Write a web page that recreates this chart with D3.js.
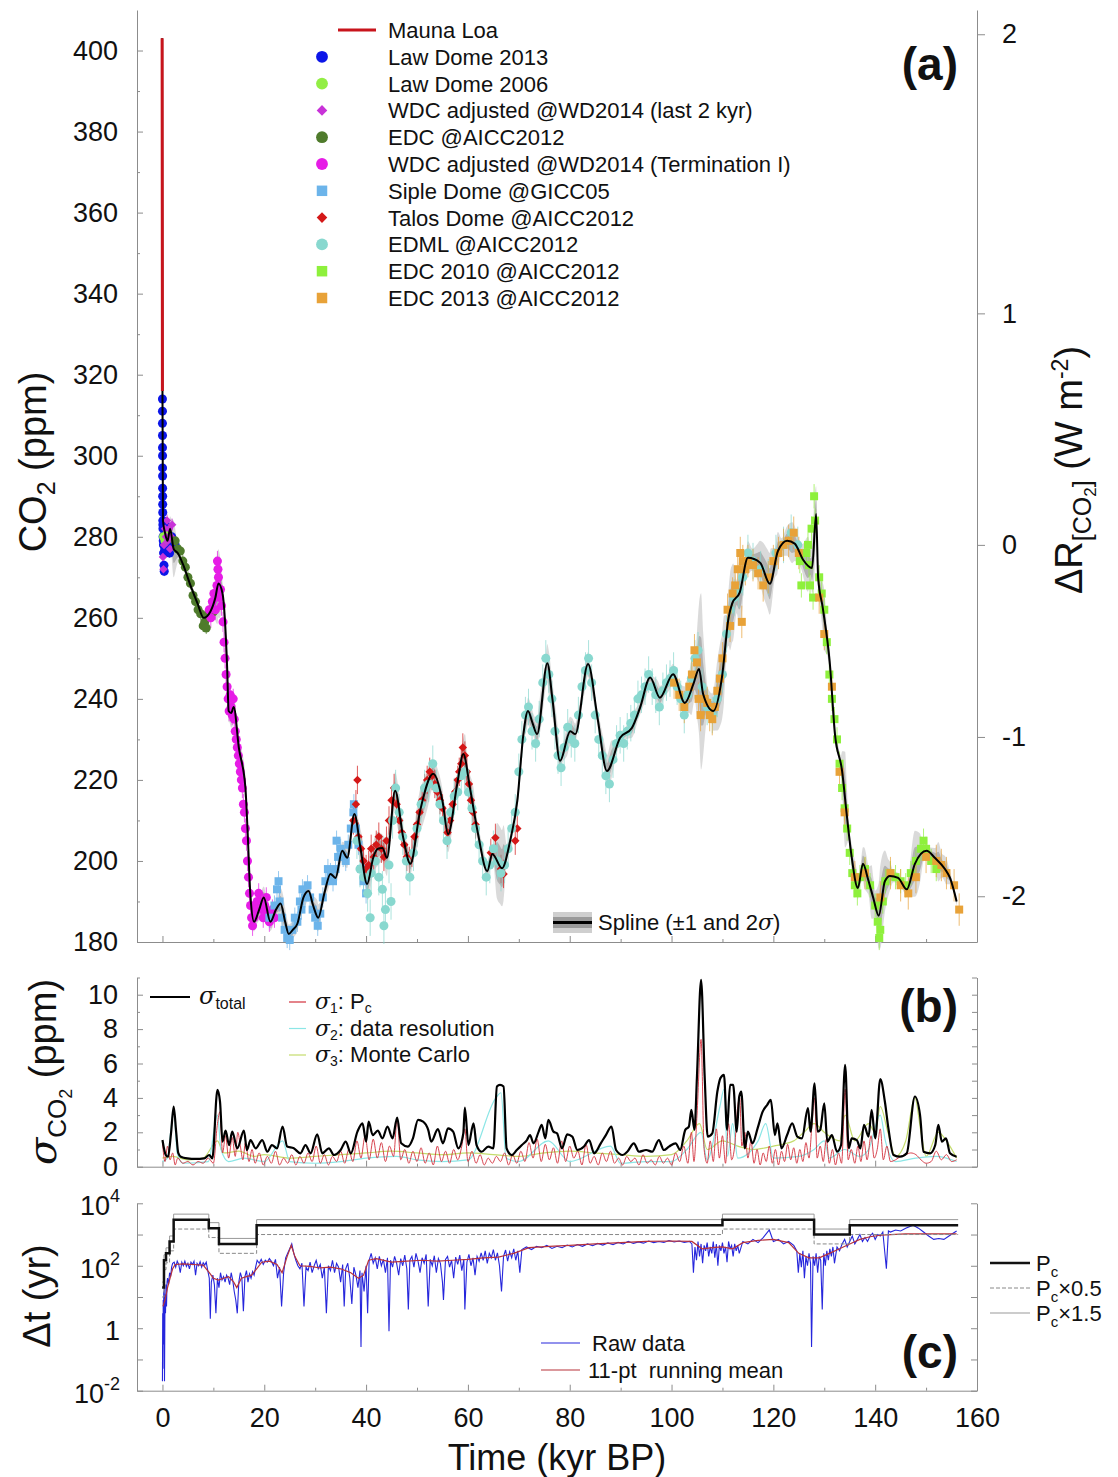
<!DOCTYPE html>
<html>
<head>
<meta charset="utf-8">
<script src="https://cdn.jsdelivr.net/npm/d3@7"></script>
<style>
  body { margin: 0; background: #fff; }
  svg text { font-family: "Liberation Sans", Arial, Helvetica, sans-serif; fill: #111; }
  .ax path, .ax line { stroke: #8c8c8c; }
  .ax text { fill: #111; }
  .sig { font-family: "DejaVu Serif", "Liberation Serif", serif !important; font-style: italic; }
</style>
</head>
<body>
<svg id="chart" width="1118" height="1477"></svg>
<script>
//spline of CO2 (kyr BP, ppm)
const splineCO2 = [[-0.066,403],[-0.04,362],[-0.01,320],[0.1,284],[0.5,281],[1.0,279],[1.5,282],[2.2,277],[3.0,276],[4.1,273],[5.5,268],[6.9,263.5],[8.1,260],[9.4,261.5],[10.4,265],[11.0,268.5],[11.8,266],[12.7,248],[13.0,237],[13.5,236.5],[14.0,238],[15.0,228],[16.3,218],[16.7,208],[17.3,191],[18.0,185],[19.0,188],[19.9,191],[21.2,185],[22.3,188],[23.2,189.5],[24.1,185],[24.8,182],[25.6,183],[26.5,184.5],[27.7,191],[28.7,192.6],[29.6,189],[30.6,186],[31.8,192],[33.0,196.8],[34.0,195.8],[35.3,202.5],[36.3,200.8],[37.7,211.6],[38.9,203.2],[40.2,194.3],[41.4,200.8],[42.3,203],[43.2,203.2],[44.1,200.8],[45.7,217.3],[47.3,205.7],[48.7,199.3],[50.6,212.3],[53.2,221.5],[55.0,214.8],[56.1,206.6],[57.9,219],[59.1,226.4],[60.4,218],[62.0,206.6],[63.8,197.5],[64.8,201.7],[66.7,198.2],[68.3,205],[69.7,214.8],[70.9,231.3],[71.8,237],[72.7,234],[73.6,231.3],[75.6,248.8],[76.6,240],[78.1,224.7],[80.1,232],[81.1,231.3],[83.6,248.6],[85.5,235],[87.3,222.2],[89.9,230.4],[92.2,232.8],[93.8,237.8],[95.8,245.3],[97.7,240.3],[100.3,246.1],[102.6,239],[104.3,243.7],[105.4,247.4],[106.2,241.2],[108.2,237],[109.9,245.3],[111.2,260],[111.9,263.5],[113.4,266.3],[115,274.8],[117.4,273.6],[119.3,268.4],[120.9,276.5],[122.7,279],[124.2,278.3],[125.8,274.4],[127.6,272.3],[128.4,285.6],[128.8,269.8],[129.7,262.5],[131.1,248.6],[132.1,231.3],[133.5,222.2],[134.4,211.6],[135.4,200.8],[136.6,193.3],[137.6,199.3],[138.6,195.5],[139.6,191],[140.7,186.5],[141.9,195],[142.9,196.3],[144.5,195.8],[146.2,193],[147.8,199.3],[150.1,202.5],[151.7,200.8],[153.7,198],[154.7,195.8],[156,190]];

const maunaLoa = [[-0.066,403],[-0.055,390],[-0.045,375],[-0.035,362],[-0.025,348],[-0.015,333],[-0.008,316]];

//ice core records (kyr BP, ppm)
const lawDome2013 = [[0.0,314],[0.0,311],[0.0,308],[0.01,305],[0.01,302],[0.02,300],[0.02,297],[0.03,295],[0.03,292],[0.04,290],[0.05,288],[0.06,286],[0.07,284],[0.08,283],[0.1,282],[0.12,280],[0.15,279],[0.2,278],[0.25,276],[0.3,276],[0.3,273],[0.35,271.5],[0.4,279],[0.45,277],[0.5,281],[0.6,283],[0.7,280],[0.8,279],[0.9,282],[1.0,280],[1.2,278],[1.4,276],[1.6,278],[1.8,280],[2.2,279],[2.5,278]];
const lawDome2006 = [[0.2,280],[0.5,279],[1.0,281],[1.3,280]];
const wdcLast2k = [[0.1,275],[0.2,272],[0.3,278],[0.5,282],[0.7,280],[0.9,284],[1.1,279],[1.3,282],[1.5,277],[1.7,280],[1.9,283]];
const edc = [[2.5,279],[3.0,277],[3.5,276.5],[4.0,274],[4.5,272.5],[5.0,270],[5.5,268.5],[6.0,265.5],[6.5,264],[7.0,262],[7.5,261],[8.0,258],[8.3,259],[8.6,257.5],[9.0,261],[9.5,262],[10.0,261.5]];
const wdcTermI = [[9.2,262],[9.5,260],[9.8,264],[10.1,266],[10.4,262],[10.7,268],[10.8,274],[10.9,272],[11.0,270],[11.2,265],[11.4,267],[11.6,263],[11.9,259],[12.1,254],[12.3,250],[12.5,246],[12.7,243],[12.9,240],[13.1,237],[13.3,241],[13.5,238],[13.7,236],[13.9,240],[14.1,235],[14.3,232],[14.5,230],[14.7,228],[14.9,226],[15.1,224],[15.3,222],[15.5,220],[15.7,218],[15.9,214],[16.1,212],[16.3,208],[16.5,205],[16.7,200],[16.9,196],[17.1,192],[17.3,189],[17.5,186],[17.7,184],[18.0,186],[18.3,188],[18.6,190],[18.9,192],[19.2,190],[19.5,188],[19.8,186],[20.1,189],[20.4,191],[20.7,187],[21.0,185],[21.3,186],[21.6,188],[22.0,186]];
const sipleDome = [[21,186],[22,189],[22.5,193],[22.8,195],[23,190],[23.5,186],[24,183],[24.5,181],[25,180.5],[25.5,183],[26,186],[26.5,185],[27,190],[27.3,188],[27.5,193],[28,191],[28.5,194],[29,191],[29.5,188],[30,186],[30.5,184],[31,187],[31.5,191],[32,195],[32.5,198],[33,197],[33.5,195],[34,198],[34.2,205],[34.5,201],[35,203],[35.5,201],[36,200],[36.5,204],[37,208],[37.5,212],[37.6,214],[38,208],[38.5,204],[39,198],[39.5,195],[40,192]];
const talosDome = [[37.5,210],[38.0,214],[38.3,220],[38.5,206],[39,203],[39.5,200],[40,198],[40.5,199],[41,203],[41.5,201],[42,204],[42.5,206],[43,203],[43.5,201],[44,205],[44.5,210],[45,215],[45.5,218],[46,214],[46.5,210],[47,207],[47.5,204],[48,201],[48.5,200],[49,202],[49.5,206],[50,209],[50.5,212],[51,215],[51.5,218],[52,220],[52.5,222],[53,221],[53.5,219],[54,217],[54.5,215],[55,213],[55.5,210],[56,207],[56.5,210],[57,214],[57.5,217],[58,220],[58.3,222],[58.7,224],[59,228],[59.4,226],[59.8,222],[60.2,219],[60.6,215],[61,212],[61.5,209],[64.5,202],[65.4,205.7],[66.5,198],[67,196.8],[69.3,205],[69.7,208]];
const edml = [[38.2,205],[38.8,198],[39.5,196],[40.3,192],[40.8,186],[41,197],[41.8,200],[42.5,196],[43.2,193],[43.5,184],[43.8,188],[44.5,199],[44.9,190],[45.2,210],[45.8,218],[46.5,212],[47.2,206],[47.9,200],[48.6,196],[49.3,202],[50.0,208],[50.8,214],[51.5,218],[52.3,219],[53.1,224],[53.8,218],[54.5,214],[55.2,210],[55.9,205],[56.6,212],[57.3,216],[58.0,217],[58.7,221],[59.4,222],[60.1,217],[60.8,213],[61.5,208],[62.2,204],[62.9,200],[63.6,196],[64.3,199],[65.0,203],[65.8,200],[66.5,197],[67.2,199],[67.9,203],[68.6,208],[69.3,212],[70.0,222],[70.6,230],[71.3,236],[71.9,238],[72.6,232],[73.3,229],[74.0,235],[74.7,244],[75.3,250],[75.9,246],[76.5,240],[77.1,232],[77.7,226],[78.3,223],[78.9,228],[79.6,233],[80.3,230],[81.0,229],[81.7,236],[82.4,243],[83.1,247],[83.7,250],[84.3,244],[85.0,236],[85.7,230],[86.4,226],[87.1,221],[87.8,219],[88.5,225],[89.2,229],[89.9,231],[90.6,229],[91.3,232],[92.0,234],[92.7,236],[93.4,240],[94.1,241],[94.8,243],[95.5,246],[96.2,243],[96.9,241],[97.6,238],[98.3,242],[99.0,244],[99.7,245],[100.4,247],[101.1,243],[101.8,240],[102.5,236],[103.2,241],[103.9,245],[104.6,250],[105.2,252],[106,243],[107,238],[108,236],[109,240],[110,246],[110.8,256],[111.5,262],[112.3,265],[113.2,267],[114,270],[115,276],[116,274],[117.5,272],[119,270],[120.5,276],[122,278],[123.5,281],[124.8,278]];
const edc2010 = [[125.2,274],[125.5,268],[126.5,276],[126.8,278],[127,273],[127.2,268],[127.5,282],[127.8,265],[128,290],[128.2,284],[129,270],[129.5,266],[130,262],[130.5,254],[131,246],[131.5,240],[132,235],[132.5,230],[133,224],[133.5,218],[134,213],[134.5,208],[135,202],[135.5,197],[136,194],[136.5,192],[137,196],[138,198],[139,194],[140,189],[140.5,185],[140.8,181],[141,183],[141.5,190],[142,195],[143,197],[144,196],[145,195],[146,194],[147,197],[148,200],[149,203],[149.5,205],[150,203],[151,200],[152,198]];
const edc2013 = [[100.5,244],[101.5,241],[102.5,238],[103.5,243],[104,246],[104.5,252],[105,249],[105.3,240],[105.7,236],[106.5,240],[107,239],[107.5,236],[108,235],[108.5,238],[109,242],[109.5,245],[110,250],[111,262],[111.5,258],[112,266],[112.5,268],[113,272],[113.5,276],[113.8,259],[114,274],[114.5,272],[115,274],[116,273],[117,271],[118,268],[119,270],[120,274],[121,276],[122,278],[123,279],[124,281],[125,276],[129,265],[130,256],[131.5,243],[133,222],[134,212],[136,196],[138,197],[141,191],[143,197],[145,194],[146.5,192],[148,196],[150,201],[152,200],[153,199],[154,197],[155.5,194],[156.5,188]];

const datasetNames = ["Law Dome 2013", "Law Dome 2006", "WDC adjusted @WD2014 (last 2 kyr)", "EDC @AICC2012", "WDC adjusted @WD2014 (Termination I)", "Siple Dome @GICC05", "Talos Dome @AICC2012", "EDML @AICC2012", "EDC 2010 @AICC2012", "EDC 2013 @AICC2012"];
const datasetColors = ["#0c16e8", "#92ee44", "#c832d8", "#4f7b2c", "#e61ce6", "#6cb4ea", "#d41818", "#88d8cf", "#8ef03c", "#e8a238"];
const datasetShapes = ["circle", "circle", "diamond", "circle", "circle", "square", "diamond", "circle", "square", "square"];
const datasetErr = [1.2, 1.2, 1.5, 1.5, 2.5, 2.5, 3.5, 4.5, 3, 4];
const datasets = [lawDome2013, lawDome2006, wdcLast2k, edc, wdcTermI, sipleDome, talosDome, edml, edc2010, edc2013];

//panel b: uncertainties (kyr BP, ppm)
const sigmaTotal = [[0,1.55],[0.65,0.68],[1.1,0.58],[1.7,2.0],[2.2,3.5],[2.7,2.0],[3.1,0.8],[3.6,0.58],[4.9,0.48],[6.5,0.45],[8.2,0.48],[9.2,0.68],[9.8,0.48],[10.8,4.47],[11.3,3.8],[11.8,1.46],[12.4,2.1],[13.1,1.26],[13.7,2.04],[14.7,1.07],[16,2.1],[16.6,0.97],[17.3,1.55],[18.3,1.07],[19.6,1.55],[20.6,0.87],[21.5,1.26],[22.5,1.07],[23.6,2.33],[24.5,1.17],[25.8,1.07],[27.1,0.78],[28.1,1.26],[29.1,0.78],[30.4,1.88],[31.4,0.78],[32.7,1.07],[33.7,0.68],[35,0.97],[36,1.46],[37,0.78],[38.3,2.04],[39.3,2.52],[40,1.46],[40.5,2.62],[41.3,1.84],[42.3,2.1],[43.2,1.65],[44.2,2.33],[45.2,1.65],[46.1,2.85],[46.9,1.36],[48.2,1.17],[49.2,1.65],[50.2,2.72],[51.2,2.62],[52.2,2.14],[52.8,1.46],[54.1,2.19],[55.1,1.36],[56.1,2.23],[57.1,2.04],[58.1,1.07],[59.1,1.94],[59.4,3.44],[60.1,1.26],[61.1,2.52],[61.7,1.26],[62.7,0.87],[64,1.17],[65,1.07],[65.7,4.66],[66.3,4.76],[67,4.66],[67.6,1.07],[68.6,0.68],[69.6,0.97],[70.6,1.26],[71.6,1.55],[72.2,1.84],[72.9,1.36],[73.9,2.04],[74.5,2.43],[75.2,1.65],[75.8,2.72],[76.8,2.04],[77.5,1.94],[78.5,1.07],[79.5,1.88],[80.5,1.75],[81.5,0.97],[82.8,1.17],[83.8,1.55],[84.8,0.78],[86.1,1.36],[87.1,1.84],[88.2,2.33],[89.1,0.97],[90.4,0.68],[91.3,0.87],[92.6,1.36],[93.6,0.87],[95,0.97],[96.2,0.87],[97.5,1.55],[98.5,0.97],[99.5,1.17],[100.8,1.36],[101.7,0.97],[102.7,2.14],[103.4,2.33],[103.9,3.3],[104.5,2.14],[105,5.3],[105.8,10.87],[106.5,5.3],[107.1,1.75],[108,1.94],[109,4.37],[109.6,5.15],[110.3,5.34],[110.9,2.14],[111.5,4.76],[112.1,4.76],[112.8,2.04],[113.3,4.08],[113.7,4.37],[114.4,1.07],[115,2.04],[115.9,1.36],[116.9,2.23],[117.9,3.2],[118.8,3.6],[119.5,3.88],[120.3,1.84],[120.8,2.52],[121.6,1.07],[122.7,1.84],[123.7,2.52],[124.7,1.75],[125.6,1.65],[126.8,3.4],[127.3,2.04],[128.1,4.85],[128.7,2.04],[129.2,2.14],[130,3.69],[130.6,1.46],[131.5,1.84],[132.5,0.87],[133.3,1.26],[134.1,5.92],[134.8,1.07],[135.4,1.65],[136.4,1.55],[137.1,1.07],[137.8,2.43],[138.7,1.75],[139.3,3.3],[140,1.65],[141,5.1],[141.9,3.79],[142.6,2.23],[143.6,0.68],[144.9,0.58],[146.2,0.78],[147.8,4.08],[148.8,3.03],[149.5,0.87],[150.8,0.78],[151.8,1.26],[152.4,2.43],[153.1,1.46],[153.9,1.65],[154.7,0.78],[156,0.58]];
const sigmaPc = [[0,1.4],[0.5,0.3],[1,1.2],[1.5,0.4],[2,0.8],[2.5,0.1],[3,0.5],[4,0.2],[5,0.3],[6,0.1],[7,0.3],[8,0.2],[9,0.5],[10,0.2],[10.8,2.5],[11.3,3.2],[11.8,0.8],[12.4,1.8],[13,0.5],[13.7,1.7],[14.3,0.6],[14.8,2.0],[15.3,1.2],[15.8,0.4],[16.3,1.4],[17,0.3],[17.6,1.0],[18.2,0.2],[19,0.8],[19.8,0.1],[20.6,0.6],[21.4,0.2],[22.2,0.9],[23,0.1],[23.8,0.5],[24.6,0.2],[25.4,0.7],[26.2,0.1],[27,0.6],[27.8,0.2],[28.6,0.8],[29.4,0.3],[30.2,1.2],[31,0.2],[31.8,0.7],[32.6,0.1],[33.4,0.6],[34.2,0.3],[35,0.9],[35.8,0.2],[36.6,1.0],[37.4,0.3],[38.2,1.5],[39,0.5],[39.8,1.8],[40.6,0.4],[41.4,1.6],[42.2,0.5],[43,1.4],[43.8,0.3],[44.6,1.2],[45.4,0.6],[46.1,2.8],[46.8,0.4],[47.6,1.0],[48.4,0.2],[49.2,0.9],[50,0.3],[50.8,1.1],[51.6,0.2],[52.4,0.8],[53.2,0.1],[54,1.2],[54.8,0.3],[55.6,0.9],[56.4,0.2],[57.2,1.0],[58,0.4],[58.8,1.2],[59.4,2.2],[60,0.3],[60.8,0.9],[61.6,0.2],[62.4,0.7],[63.2,0.1],[64,0.5],[64.8,0.2],[65.6,0.6],[66.4,0.3],[67.2,0.8],[68,0.1],[68.8,0.7],[69.6,0.2],[70.4,0.9],[71.2,0.3],[72,1.4],[72.8,0.5],[73.6,1.6],[74.4,0.3],[75.2,1.3],[76,0.4],[76.8,1.1],[77.6,0.2],[78.4,1.5],[79.2,0.3],[80,1.2],[80.8,0.5],[81.6,0.9],[82.4,0.1],[83.2,1.3],[84,0.2],[84.8,0.6],[85.6,0.1],[86.4,0.8],[87.2,0.3],[88,0.9],[88.8,0.2],[89.6,0.5],[90.4,0.1],[91.2,0.6],[92,0.3],[92.8,0.5],[93.6,0.1],[94.4,0.7],[95.2,0.2],[96,0.4],[96.8,0.1],[97.6,0.6],[98.4,0.2],[99.2,0.5],[100,0.1],[100.8,0.8],[101.6,0.3],[102.4,1.2],[103.2,0.2],[103.9,2.0],[104.4,0.3],[105,3.0],[105.8,7.4],[106.4,1.0],[107,0.2],[107.6,1.5],[108.2,0.3],[108.8,2.2],[109.4,0.5],[110,1.8],[110.6,0.2],[111.2,2.5],[111.8,0.4],[112.4,1.2],[113,3.5],[113.4,4.0],[113.8,1.2],[114.4,2.0],[115,0.5],[115.6,1.5],[116.2,0.2],[116.8,1.0],[117.4,0.1],[118,0.8],[118.6,0.3],[119.2,1.2],[119.8,0.2],[120.4,1.0],[121,0.1],[121.6,0.9],[122.2,0.3],[122.8,1.3],[123.4,0.4],[124,1.1],[124.6,0.2],[125.2,1.0],[125.8,0.3],[126.4,1.4],[127,0.5],[127.6,2.5],[128.1,4.0],[128.6,0.5],[129.2,1.2],[129.8,0.3],[130.4,1.6],[131,0.2],[131.6,1.0],[132.2,0.1],[132.8,0.8],[133.4,0.2],[134.1,4.5],[134.7,0.4],[135.3,1.0],[136,0.2],[136.6,1.2],[137.2,0.3],[137.8,1.5],[138.4,0.4],[139.2,1.8],[139.8,0.5],[140.4,1.0],[141,2.2],[141.6,0.4],[142.3,1.2],[143,0.3],[144,0.4],[145,0.6],[146,0.7],[147,0.8],[148,0.7],[149,0.4],[150,0.2],[151,0.3],[152,0.9],[153,0.4],[154,0.7],[155,0.3],[156,0.4]];
const sigmaRes = [[0,0.3],[1,0.5],[1.6,2.0],[2.2,3.3],[2.9,0.8],[4,0.2],[9,0.3],[10.8,3.0],[11.5,1.0],[13,0.3],[16,0.5],[20,0.3],[23.6,1.5],[25,0.3],[30,0.2],[35,0.3],[40,0.5],[46,0.6],[50,0.4],[55,0.3],[60,0.4],[65.5,4.0],[66.5,4.3],[67.5,0.5],[70,0.3],[75.8,1.5],[80,0.3],[88,1.2],[90,0.2],[95,0.3],[100,0.3],[103,1.0],[105.8,2.0],[107,0.4],[109.5,3.5],[110.3,4.5],[111,0.6],[112,2.5],[113,0.5],[117,1.5],[118.5,2.5],[120,0.5],[125,0.6],[128,1.0],[130,1.5],[131,0.5],[134,1.0],[137,0.6],[138.7,1.0],[141,3.0],[142,1.5],[144,0.3],[148,0.5],[152,0.6],[156,0.3]];
const sigmaMC = [[0,0.5],[2,0.6],[5,0.4],[8,0.5],[10.8,1.5],[12,0.8],[15,0.9],[18,0.6],[20,0.7],[25,0.5],[30,0.6],[35,0.7],[40,0.8],[45,0.9],[50,0.8],[55,0.7],[60,0.8],[65,0.7],[70,0.6],[75,0.8],[80,0.9],[85,0.8],[90,0.7],[95,0.6],[100,0.7],[103,1.5],[105.5,2.5],[107,1.0],[110,1.5],[113,1.2],[116,1.0],[120,1.2],[124,1.5],[126,2.0],[128,2.5],[130,2.0],[133,1.5],[134.1,3.0],[136,1.5],[138.7,2.5],[140,2.0],[141,3.5],[142.5,2.0],[144,0.6],[146,1.5],[147.8,4.0],[149,2.0],[150,0.6],[152.4,2.0],[154,1.5],[156,0.5]];

//panel c: cut-off period steps and time resolution (kyr BP, yr)
const pcBreaks = [-0.06, 0.3, 0.7, 1.4, 2.2, 9.1, 11.1, 18.5, 110, 128, 135, 156.3];
const pcValues = [20, 150, 250, 600, 3000, 1600, 500, 2000, 3000, 1000, 2000];
const rawDt = [[0.0,0.02],[0.05,3],[0.1,0.05],[0.15,8],[0.2,0.3],[0.25,15],[0.3,1],[0.35,20],[0.4,0.02],[0.5,12],[0.6,3],[0.7,25],[0.8,5],[0.9,30],[1.0,40],[1.2,25],[1.4,60],[1.6,45],[1.8,90],[2.0,120],[2.3,130],[2.6,90],[2.9,140],[3.2,110],[3.5,60],[3.8,130],[4.1,100],[4.4,140],[4.7,95],[5.0,120],[5.3,80],[5.6,130],[5.9,110],[6.2,140],[6.5,50],[6.8,120],[7.1,100],[7.4,135],[7.7,90],[8.0,125],[8.3,105],[8.6,130],[8.9,70],[9.2,40],[9.4,2],[9.6,30],[9.9,50],[10.2,25],[10.5,3],[10.8,40],[11.1,20],[11.4,60],[11.7,35],[12.0,45],[12.3,30],[12.6,50],[12.9,40],[13.2,25],[13.5,60],[13.8,35],[14.1,15],[14.4,8],[14.7,3],[15.0,30],[15.3,60],[15.6,40],[15.9,3.5],[16.2,45],[16.5,70],[16.8,30],[17.1,55],[17.4,40],[17.7,65],[18.0,50],[18.3,90],[18.6,150],[19.0,120],[19.4,160],[19.8,110],[20.2,150],[20.6,130],[21.0,170],[21.4,140],[21.8,100],[22.2,160],[22.6,40],[23.0,90],[23.4,5],[23.8,60],[24.2,180],[24.6,250],[25.0,350],[25.4,500],[25.8,250],[26.2,150],[26.6,100],[27.0,80],[27.4,120],[27.8,5],[28.2,90],[28.6,70],[29.0,130],[29.4,60],[29.8,100],[30.2,150],[30.6,80],[31.0,110],[31.4,40],[31.8,90],[32.2,3],[32.6,100],[33.0,70],[33.4,150],[33.8,60],[34.2,120],[34.6,90],[35.0,30],[35.4,110],[35.7,5],[36.0,80],[36.4,120],[36.8,40],[37.2,6],[37.6,90],[38.0,50],[38.4,20],[38.8,70],[39.0,0.25],[39.2,60],[39.6,15],[40.0,100],[40.3,3],[40.6,150],[41.0,250],[41.4,120],[41.8,180],[42.2,80],[42.6,200],[43.0,100],[43.4,160],[43.8,60],[44.2,180],[44.5,0.8],[44.8,150],[45.2,90],[45.6,200],[46.0,120],[46.4,50],[46.8,170],[47.2,100],[47.6,220],[48.0,80],[48.3,4],[48.6,150],[49.0,200],[49.4,90],[49.8,250],[50.2,140],[50.6,60],[51.0,180],[51.4,120],[51.8,230],[52.2,5],[52.6,160],[53.0,100],[53.4,210],[53.8,60],[54.2,170],[54.6,120],[55.0,30],[55.2,8],[55.6,160],[56.0,200],[56.4,90],[56.8,150],[57.2,40],[57.6,190],[58.0,110],[58.4,220],[58.8,70],[59.2,160],[59.4,4],[59.8,130],[60.2,230],[60.6,100],[61.0,180],[61.4,50],[61.8,200],[62.2,140],[62.6,260],[63.0,150],[63.4,300],[63.8,120],[64.2,250],[64.6,180],[65.0,330],[65.4,150],[65.8,260],[66.2,100],[66.6,15],[67.0,200],[67.4,320],[67.8,140],[68.2,280],[68.6,180],[69.0,350],[69.4,150],[69.8,300],[70.2,60],[70.6,330],[71.5,400],[72.5,330],[73.5,420],[74.5,380],[75.5,450],[76.5,360],[77.5,420],[78.5,380],[79.5,460],[80.5,400],[81.5,480],[82.5,420],[83.5,500],[84.5,440],[85.5,520],[86.5,460],[87.5,540],[88.5,470],[89.5,560],[90.5,500],[91.5,600],[92.5,520],[93.5,580],[94.5,530],[95.5,620],[96.5,550],[97.5,600],[98.5,560],[99.5,640],[100.5,580],[101.5,620],[102.5,560],[103.5,600],[104.0,500],[104.3,60],[104.6,400],[104.9,150],[105.2,600],[105.5,200],[105.8,500],[106.1,120],[106.4,450],[106.7,300],[107.0,550],[107.3,200],[107.6,400],[107.9,250],[108.2,600],[108.5,180],[108.8,500],[109.1,100],[109.4,450],[109.7,300],[110.0,550],[110.3,250],[110.6,400],[110.9,130],[111.2,600],[111.5,350],[111.8,450],[112.1,200],[112.4,500],[112.7,300],[113.0,450],[113.3,250],[114,600],[115,500],[116,700],[117,550],[118,800],[119.2,1400],[120,600],[121,700],[122,500],[123,600],[124,450],[124.6,300],[124.9,60],[125.2,250],[125.5,90],[125.8,300],[126.1,40],[126.4,200],[126.7,100],[127.0,250],[127.3,120],[127.5,0.25],[127.8,200],[128.1,100],[128.4,250],[128.7,60],[129.0,200],[129.3,150],[129.6,4],[129.9,250],[130.2,100],[130.5,300],[130.8,150],[131.1,350],[131.4,200],[131.7,400],[132.0,120],[132.5,400],[133.0,300],[133.5,500],[134,700],[134.5,400],[135,600],[135.5,900],[136,500],[136.5,700],[137,1000],[137.5,600],[138,800],[138.5,600],[139,900],[139.5,1100],[140,700],[140.5,1000],[141,900],[141.5,1200],[142.2,80],[142.6,1300],[143,1200],[144,1400],[145,1300],[146,1600],[147.4,2000],[148.5,1600],[149.5,1200],[150.5,900],[151.5,700],[152.5,750],[153.5,700],[154.5,900],[155.3,1100],[156,1300]];
const meanDt = [[0.1,5],[0.5,8],[1.0,20],[1.5,40],[2.0,80],[2.5,110],[4,115],[6,110],[8,105],[9.2,60],[10,40],[11,35],[12,40],[13,45],[14,30],[14.6,20],[15.5,40],[16.5,45],[17.5,50],[18.5,80],[19.5,130],[21,140],[22.5,110],[23.5,60],[24.5,200],[25.3,450],[26,200],[27,100],[29,95],[31,85],[33,90],[35,80],[37,60],[38.5,40],[39.5,50],[40.5,150],[42,170],[45,130],[48,140],[51,150],[54,140],[57,150],[60,160],[63,180],[66,190],[69,250],[72,380],[76,420],[80,450],[85,500],[90,550],[95,600],[100,620],[104,600],[106,350],[108,380],[110,400],[112,350],[114,550],[117,650],[120,700],[123,550],[125,250],[127,180],[129,180],[131,250],[133,350],[135,500],[137,700],[139,850],[141,950],[143,1000],[146,1050],[150,1050],[156,1050]];

//tick values
const co2Ticks = [180, 200, 220, 240, 260, 280, 300, 320, 340, 360, 380, 400];
const co2Minor = [190, 210, 230, 250, 270, 290, 310, 330, 350, 370, 390];
const forcingTicks = [-2, -1, 0, 1, 2];
const timeTicks = [0, 20, 40, 60, 80, 100, 120, 140, 160];
const timeMinor = [10, 30, 50, 70, 90, 110, 130, 150];
const sigmaTicks = [0, 2, 4, 6, 8, 10];
const sigmaMinor = [1, 3, 5, 7, 9, 11];
const dtTicks = [1e-2, 1e-1, 1, 10, 100, 1e3, 1e4];
const dtLabels = [[1e4, "10", "4"], [1e2, "10", "2"], [1, "1", ""], [1e-2, "10", "-2"]];

const svg = d3.select("#chart");
const L = 137, R = 977;

//scales
const x = d3.scaleLinear().domain([-5, 160]).range([L, R]);
const yA = d3.scaleLinear().domain([180, 410]).range([942, 10]);
const yB = d3.scaleLinear().domain([0, 11]).range([1166.7, 977.5]);
const yC = d3.scaleLog().domain([1e-2, 1e4]).range([1390.7, 1203.3]);

function styleAxis(g, size) {
  g.attr("class", "ax").attr("font-size", size || 27)
    .attr("font-family", '"Liberation Sans", Arial, sans-serif');
}
function noDomain(g) { g.select(".domain").remove(); }

// ---------- panel a ----------
svg.append("g").attr("transform", `translate(${L},0)`)
  .call(d3.axisLeft(yA).tickValues(co2Ticks).tickSize(-6).tickSizeOuter(0).tickPadding(19))
  .call(styleAxis);
svg.append("g").attr("transform", `translate(${L},0)`)
  .call(d3.axisLeft(yA).tickValues(co2Minor).tickSize(-3).tickFormat(""))
  .call(styleAxis).call(noDomain);
svg.append("g").attr("transform", `translate(${R},0)`)
  .call(d3.axisRight(yA).tickValues(forcingTicks.map(r => 278 * Math.exp(r / 5.35)))
    .tickSize(8).tickSizeOuter(0).tickPadding(17).tickFormat((d, i) => String(forcingTicks[i])))
  .call(styleAxis);
svg.append("g").attr("transform", "translate(0,942)")
  .call(d3.axisBottom(x).tickValues(timeTicks).tickSize(-6).tickSizeOuter(0).tickFormat(""))
  .call(styleAxis);
svg.append("g").attr("transform", "translate(0,942)")
  .call(d3.axisBottom(x).tickValues(timeMinor).tickSize(-3).tickFormat(""))
  .call(styleAxis).call(noDomain);

//linear interpolation inside a [t, v] list
function interp(series, t) {
  const i = d3.bisector(d => d[0]).left(series, t);
  if (i <= 0) return series[0][1];
  if (i >= series.length) return series[series.length - 1][1];
  const a = series[i - 1], b = series[i];
  return a[1] + (b[1] - a[1]) * (t - a[0]) / (b[0] - a[0]);
}

//uncertainty bands around the spline
const bandTimes = Array.from(new Set(splineCO2.map(d => d[0]).concat(sigmaTotal.map(d => d[0]))))
  .filter(t => t >= 0.1 && t <= 156).sort((a, b) => a - b);
const band = bandTimes.map(t => ({ t, c: interp(splineCO2, t), s: interp(sigmaTotal, t) }));
[[2, "#d4d4d4"], [1, "#a9a9a9"]].forEach(([k, col]) => {
  svg.append("path").datum(band)
    .attr("fill", col).attr("opacity", 0.85)
    .attr("d", d3.area().curve(d3.curveMonotoneX)
      .x(d => x(d.t)).y0(d => yA(d.c - k * d.s)).y1(d => yA(d.c + k * d.s)));
});

//diamonds are squares turned by 45 degrees
const shapeType = { circle: d3.symbolCircle, square: d3.symbolSquare, diamond: d3.symbolSquare };
const shapeSize = { circle: 64, square: 64, diamond: 36 };
const turn = s => (s === "diamond" ? " rotate(45)" : "");

//error bars then markers
datasets.forEach((pts, k) => {
  const g = svg.append("g");
  g.selectAll("line").data(pts).join("line")
    .attr("x1", d => x(d[0])).attr("x2", d => x(d[0]))
    .attr("y1", d => yA(d[1] - datasetErr[k])).attr("y2", d => yA(d[1] + datasetErr[k]))
    .attr("stroke", datasetColors[k]).attr("stroke-width", 1).attr("opacity", 0.7);
});
datasets.forEach((pts, k) => {
  const s = datasetShapes[k];
  svg.append("g").selectAll("path").data(pts).join("path")
    .attr("transform", d => `translate(${x(d[0])},${yA(d[1])})` + turn(s))
    .attr("d", d3.symbol().type(shapeType[s]).size(shapeSize[s]))
    .attr("fill", datasetColors[k]);
});

svg.append("path").datum(splineCO2)
  .attr("fill", "none").attr("stroke", "#000").attr("stroke-width", 2)
  .attr("d", d3.line().curve(d3.curveMonotoneX).x(d => x(d[0])).y(d => yA(d[1])));
svg.append("path").datum(maunaLoa)
  .attr("fill", "none").attr("stroke", "#c8141c").attr("stroke-width", 3)
  .attr("d", d3.line().x(d => x(d[0])).y(d => yA(d[1])));

//legend of panel a
const legA = svg.append("g");
const rowY = i => 30 + i * 26.8;
legA.append("line").attr("x1", 338).attr("x2", 376).attr("y1", rowY(0)).attr("y2", rowY(0))
  .attr("stroke", "#c8141c").attr("stroke-width", 3);
legA.append("text").attr("x", 388).attr("y", rowY(0) + 8).attr("font-size", 22).text("Mauna Loa");
datasetNames.forEach((name, k) => {
  const s = datasetShapes[k];
  legA.append("path").attr("transform", `translate(322,${rowY(k + 1)})` + turn(s))
    .attr("d", d3.symbol().type(shapeType[s]).size(s === "diamond" ? 56 : 110))
    .attr("fill", datasetColors[k]);
  legA.append("text").attr("x", 388).attr("y", rowY(k + 1) + 8).attr("font-size", 22).text(name);
});

svg.append("text").attr("x", 958).attr("y", 80).attr("text-anchor", "end")
  .attr("font-size", 46).attr("font-weight", "bold").text("(a)");

//spline legend
svg.append("rect").attr("x", 553).attr("y", 912).attr("width", 39).attr("height", 21).attr("fill", "#cfcfcf");
svg.append("rect").attr("x", 553).attr("y", 917).attr("width", 39).attr("height", 11).attr("fill", "#9a9a9a");
svg.append("line").attr("x1", 553).attr("x2", 592).attr("y1", 922.5).attr("y2", 922.5)
  .attr("stroke", "#000").attr("stroke-width", 3);
const sl = svg.append("text").attr("x", 598).attr("y", 930).attr("font-size", 22);
sl.append("tspan").text("Spline (\u00b11 and 2");
sl.append("tspan").attr("class", "sig").text("\u03c3");
sl.append("tspan").text(")");

//axis titles of panel a
const tA = svg.append("text").attr("transform", "translate(46,462) rotate(-90)")
  .attr("text-anchor", "middle").attr("font-size", 38);
tA.append("tspan").text("CO");
tA.append("tspan").attr("font-size", 25).attr("dy", 9).text("2");
tA.append("tspan").attr("dy", -9).text(" (ppm)");

const tR = svg.append("text").attr("transform", "translate(1082,470) rotate(-90)")
  .attr("text-anchor", "middle").attr("font-size", 38);
tR.append("tspan").text("\u0394R");
tR.append("tspan").attr("font-size", 25).attr("dy", 9).text("[CO");
tR.append("tspan").attr("font-size", 17).attr("dy", 5).text("2");
tR.append("tspan").attr("font-size", 25).attr("dy", -5).text("]");
tR.append("tspan").attr("dy", -9).text(" (W m");
tR.append("tspan").attr("font-size", 23).attr("dy", -14).text("-2");
tR.append("tspan").attr("dy", 14).text(")");

// ---------- panel b ----------
svg.append("g").attr("transform", `translate(${L},0)`)
  .call(d3.axisLeft(yB).tickValues(sigmaTicks).tickSize(-6).tickSizeOuter(0).tickPadding(19))
  .call(styleAxis);
svg.append("g").attr("transform", `translate(${L},0)`)
  .call(d3.axisLeft(yB).tickValues(sigmaMinor).tickSize(-3).tickFormat(""))
  .call(styleAxis).call(noDomain);
svg.append("g").attr("transform", `translate(${R},0)`)
  .call(d3.axisRight(yB).tickValues(sigmaTicks.concat(sigmaMinor)).tickSize(-5).tickSizeOuter(0).tickFormat(""))
  .call(styleAxis);
svg.append("g").attr("transform", "translate(0,1166.7)")
  .call(d3.axisBottom(x).tickValues(timeTicks).tickSize(-6).tickSizeOuter(0).tickFormat(""))
  .call(styleAxis);
svg.append("g").attr("transform", "translate(0,1166.7)")
  .call(d3.axisBottom(x).tickValues(timeMinor).tickSize(-3).tickFormat(""))
  .call(styleAxis).call(noDomain);

const lineB = d3.line().curve(d3.curveMonotoneX).x(d => x(d[0])).y(d => yB(d[1]));
[[sigmaMC, "#c4dc6c", 1.2], [sigmaRes, "#8ce6e6", 1.2], [sigmaPc, "#d2303c", 0.9], [sigmaTotal, "#000", 2.2]]
  .forEach(([s, col, w]) => {
    svg.append("path").datum(s).attr("fill", "none").attr("stroke", col)
      .attr("stroke-width", w).attr("d", lineB);
  });

//legend of panel b
svg.append("line").attr("x1", 150).attr("x2", 190).attr("y1", 997).attr("y2", 997)
  .attr("stroke", "#000").attr("stroke-width", 2.2);
const lt = svg.append("text").attr("x", 199).attr("y", 1004).attr("font-size", 24);
lt.append("tspan").attr("class", "sig").text("\u03c3");
lt.append("tspan").attr("font-size", 16).attr("dy", 5).text("total");

const legB = [["#d2303c", "1", ": P", "c"], ["#8ce6e6", "2", ": data resolution", ""], ["#c4dc6c", "3", ": Monte Carlo", ""]];
legB.forEach(([col, sub, label, sub2], i) => {
  const cy = 1002 + i * 26.5;
  svg.append("line").attr("x1", 289).attr("x2", 306).attr("y1", cy).attr("y2", cy)
    .attr("stroke", col).attr("stroke-width", 1.2);
  const t = svg.append("text").attr("x", 315).attr("y", cy + 7).attr("font-size", 22);
  t.append("tspan").attr("class", "sig").text("\u03c3");
  t.append("tspan").attr("font-size", 14).attr("dy", 4).text(sub);
  t.append("tspan").attr("dy", -4).text(label);
  if (sub2) t.append("tspan").attr("font-size", 14).attr("dy", 4).text(sub2);
});

svg.append("text").attr("x", 958).attr("y", 1022).attr("text-anchor", "end")
  .attr("font-size", 46).attr("font-weight", "bold").text("(b)");

const tB = svg.append("text").attr("transform", "translate(56,1072) rotate(-90)")
  .attr("text-anchor", "middle").attr("font-size", 38);
tB.append("tspan").attr("class", "sig").attr("font-size", 40).text("\u03c3");
tB.append("tspan").attr("font-size", 26).attr("dy", 10).text("CO");
tB.append("tspan").attr("font-size", 18).attr("dy", 6).text("2");
tB.append("tspan").attr("dy", -16).text(" (ppm)");

// ---------- panel c ----------
svg.append("g").attr("transform", `translate(${L},0)`)
  .call(d3.axisLeft(yC).tickValues(dtTicks).tickSize(-6).tickSizeOuter(0).tickFormat(""))
  .call(styleAxis);
svg.append("g").attr("transform", `translate(${R},0)`)
  .call(d3.axisRight(yC).tickValues(dtTicks).tickSize(-6).tickSizeOuter(0).tickFormat(""))
  .call(styleAxis);
svg.append("g").attr("transform", "translate(0,1390.7)")
  .call(d3.axisBottom(x).tickValues(timeTicks).tickSize(-6).tickSizeOuter(0).tickPadding(17))
  .call(styleAxis);
svg.append("g").attr("transform", "translate(0,1390.7)")
  .call(d3.axisBottom(x).tickValues(timeMinor).tickSize(-3).tickFormat(""))
  .call(styleAxis).call(noDomain);

dtLabels.forEach(([v, base, exp]) => {
  const t = svg.append("text").attr("x", 120).attr("y", yC(v) + 12)
    .attr("text-anchor", "end").attr("font-size", 27);
  t.append("tspan").text(base);
  if (exp) t.append("tspan").attr("font-size", 18).attr("dy", -13).text(exp);
});

const lineC = d3.line().x(d => x(d[0])).y(d => yC(Math.max(d[1], 0.01)));
svg.append("path").datum(rawDt).attr("fill", "none").attr("stroke", "#2626dc")
  .attr("stroke-width", 1.1).attr("d", lineC);
svg.append("path").datum(meanDt).attr("fill", "none").attr("stroke", "#b8323a")
  .attr("stroke-width", 1.2).attr("d", lineC);

const pcPts = pcValues.map((v, i) => [pcBreaks[i], v]).concat([[pcBreaks[pcBreaks.length - 1], pcValues[pcValues.length - 1]]]);
const stepC = f => d3.line().curve(d3.curveStepAfter).x(d => x(d[0])).y(d => yC(d[1] * f));
svg.append("path").datum(pcPts).attr("fill", "none").attr("stroke", "#999")
  .attr("stroke-width", 1).attr("d", stepC(1.5));
svg.append("path").datum(pcPts).attr("fill", "none").attr("stroke", "#888")
  .attr("stroke-width", 1).attr("stroke-dasharray", "4,2").attr("d", stepC(0.5));
svg.append("path").datum(pcPts).attr("fill", "none").attr("stroke", "#111")
  .attr("stroke-width", 2.5).attr("d", stepC(1));

//legends of panel c
svg.append("line").attr("x1", 541).attr("x2", 580).attr("y1", 1343).attr("y2", 1343)
  .attr("stroke", "#2626dc").attr("stroke-width", 1.2);
svg.append("text").attr("x", 592).attr("y", 1351).attr("font-size", 22).text("Raw data");
svg.append("line").attr("x1", 541).attr("x2", 580).attr("y1", 1370).attr("y2", 1370)
  .attr("stroke", "#b8323a").attr("stroke-width", 1.2);
svg.append("text").attr("x", 588).attr("y", 1378).attr("font-size", 22).attr("xml:space", "preserve")
  .text("11-pt  running mean");

const legC = [["", "#111", 2.5, null], ["\u00d70.5", "#888", 1, "4,2"], ["\u00d71.5", "#999", 1, null]];
legC.forEach(([suffix, col, w, dash], i) => {
  const cy = 1263 + i * 25;
  svg.append("line").attr("x1", 990).attr("x2", 1030).attr("y1", cy).attr("y2", cy)
    .attr("stroke", col).attr("stroke-width", w).attr("stroke-dasharray", dash);
  const t = svg.append("text").attr("x", 1036).attr("y", cy + 8).attr("font-size", 22);
  t.append("tspan").text("P");
  t.append("tspan").attr("font-size", 15).attr("dy", 6).text("c");
  if (suffix) t.append("tspan").attr("dy", -6).text(suffix);
});

svg.append("text").attr("x", 958).attr("y", 1368).attr("text-anchor", "end")
  .attr("font-size", 46).attr("font-weight", "bold").text("(c)");

svg.append("text").attr("transform", "translate(50,1296) rotate(-90)")
  .attr("text-anchor", "middle").attr("font-size", 38).text("\u0394t (yr)");

svg.append("text").attr("x", 557).attr("y", 1470).attr("text-anchor", "middle")
  .attr("font-size", 36).text("Time (kyr BP)");
</script>
</body>
</html>
